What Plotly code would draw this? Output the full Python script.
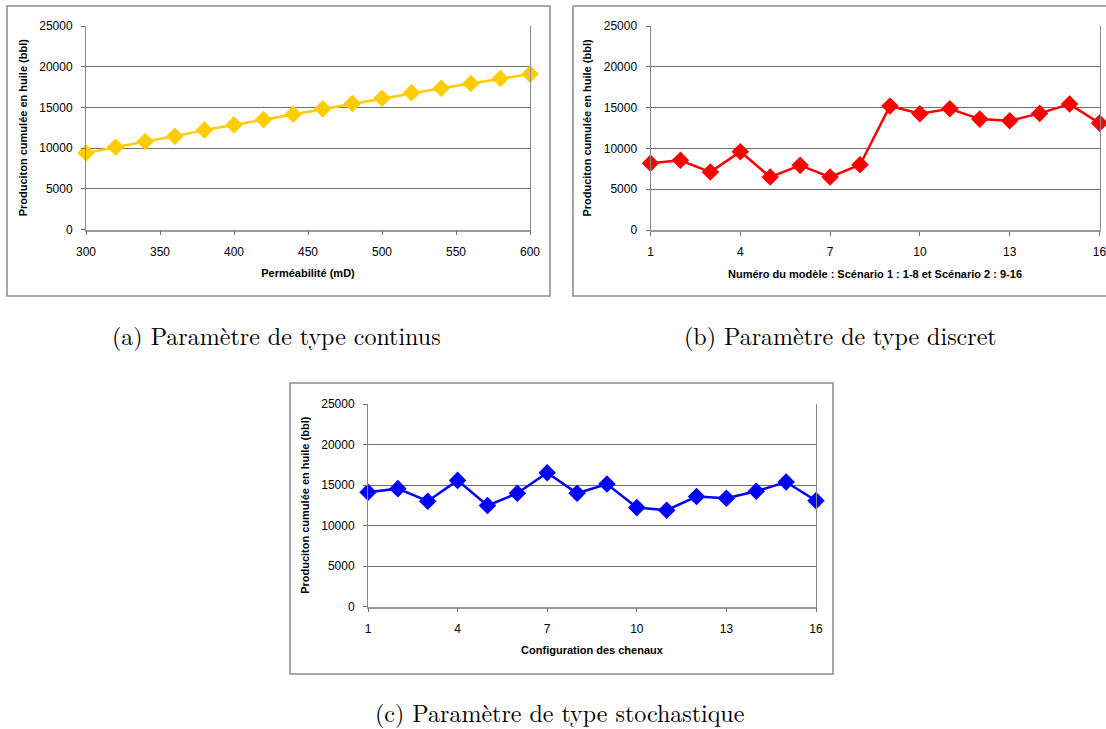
import plotly.graph_objects as go

# ---------------- data ----------------
perm_md = [300, 320, 340, 360, 380, 400, 420, 440, 460, 480, 500, 520, 540, 560, 580, 600]
prod_continu = [9400, 10140, 10800, 11450, 12230, 12850, 13500, 14160, 14820, 15480,
                16130, 16790, 17360, 17940, 18550, 19090]

modele_num = list(range(1, 17))
prod_discret = [8170, 8540, 7100, 9600, 6490, 7920, 6490, 8000, 15190, 14240,
                14860, 13590, 13380, 14290, 15430, 13100]

config_num = list(range(1, 17))
prod_stoch = [14100, 14550, 13000, 15570, 12460, 13980, 16520, 13980, 15120, 12210,
              11890, 13570, 13360, 14220, 15370, 13070]

y_ticks = [0, 5000, 10000, 15000, 20000, 25000]
ytitle = "Produciton cumulée en huile (bbl)"
xtitles = ["Perméabilité (mD)",
           "Numéro du modèle : Scénario 1 : 1-8 et Scénario 2 : 9-16",
           "Configuration des chenaux"]
captions = ["(a) Paramètre de type continus",
            "(b) Paramètre de type discret",
            "(c) Paramètre de type stochastique"]

# ---------------- layout helpers ----------------
W, H = 1106, 729
def px(x):
    return x / W
def py(y):
    return 1 - y / H

FONT = "Liberation Sans, Arial, sans-serif"
SERIF = "Latin Modern Roman, CMU Serif, DejaVu Serif, Liberation Serif, serif"

fig = go.Figure()

series = [
    (perm_md, prod_continu, "#FFCC00", "x", "y"),
    (modele_num, prod_discret, "#FF0000", "x2", "y2"),
    (config_num, prod_stoch, "#0000FF", "x3", "y3"),
]
for xs, ys, col, xa, ya in series:
    fig.add_trace(go.Scatter(
        x=xs, y=ys, mode="lines+markers", xaxis=xa, yaxis=ya,
        line=dict(color=col, width=2.5),
        marker=dict(symbol="diamond", size=13.5, color=col),
        cliponaxis=False, showlegend=False, hoverinfo="x+y"))

plots = [
    dict(x0=86, x1=530, y0=26, y1=229.5, xr=[300, 600], dt=50, t0=300),
    dict(x0=650.5, x1=1099.5, y0=26, y1=230, xr=[1, 16], dt=3, t0=1),
    dict(x0=368, x1=816, y0=404, y1=606.5, xr=[1, 16], dt=3, t0=1),
]

grid_col = "#6e6e6e"
for i, p in enumerate(plots):
    sfx = "" if i == 0 else str(i + 1)
    fig.layout["xaxis" + sfx] = dict(
        domain=[px(p["x0"]), px(p["x1"])], range=p["xr"], anchor="y" + sfx,
        automargin=False, ticklabeloverflow="allow",
        tickmode="linear", tick0=p["t0"], dtick=p["dt"],
        showgrid=False, zeroline=False, showline=True, linecolor="#9a9a9a", linewidth=1.5,
        ticks="outside", ticklen=4, tickcolor="#6e6e6e", tickwidth=1,
        tickfont=dict(family=FONT, size=12, color="#000"),
        ticklabelstandoff=6,
        title=dict(text=xtitles[i], font=dict(family=FONT, size=11, color="#000", weight="bold"),
                   standoff=12),
        fixedrange=True)
    fig.layout["yaxis" + sfx] = dict(
        domain=[py(p["y1"]), py(p["y0"])], range=[0, 25000], anchor="x" + sfx,
        automargin=False,
        tickmode="array", tickvals=y_ticks, ticktext=[str(v) for v in y_ticks],
        showgrid=True, gridcolor=grid_col, gridwidth=1, zeroline=False,
        showline=True, linecolor="#8a8a8a", linewidth=1, mirror=True,
        ticks="outside", ticklen=4, tickcolor="#6e6e6e", tickwidth=1,
        tickfont=dict(family=FONT, size=12, color="#000"),
        ticklabelstandoff=6,
        title=dict(text=ytitle, font=dict(family=FONT, size=11, color="#000", weight="bold"),
                   standoff=9),
        fixedrange=True)

# outer chart frames
frames = [(7, 6, 550, 296), (573, 6, 1112, 296), (290, 383, 833, 674)]
shapes = []
for x0, y0, x1, y1 in frames:
    shapes.append(dict(type="rect", xref="paper", yref="paper",
                       x0=px(x0), x1=px(x1), y0=py(y1), y1=py(y0),
                       line=dict(color="#8c8c8c", width=1.5), fillcolor="rgba(0,0,0,0)",
                       layer="below"))

cap_pos = [(276, 335), (840, 335), (559, 712)]
annotations = []
for (cx, cy), txt in zip(cap_pos, captions):
    annotations.append(dict(text=txt, x=px(cx), y=py(cy), xref="paper", yref="paper",
                            showarrow=False, xanchor="center", yanchor="middle",
                            borderpad=0,
                            font=dict(family=SERIF, size=24, color="#000")))

fig.update_layout(
    width=W, height=H, autosize=False,
    margin=dict(l=0, r=0, t=0, b=0, autoexpand=False),
    paper_bgcolor="white", plot_bgcolor="white",
    shapes=shapes, annotations=annotations)

fig.write_html("out.html", config={"displayModeBar": False},
               post_script="document.body.style.margin='0';document.body.style.overflow='hidden';")
